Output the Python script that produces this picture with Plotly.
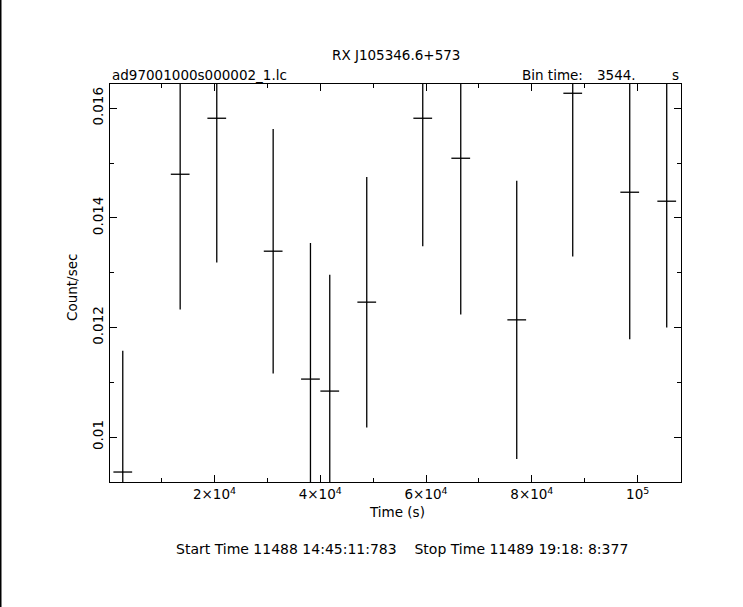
import plotly.graph_objects as go

# ---- data ----
time_s = [2665, 13516, 20435, 31096, 38147, 41796, 48790, 59376, 66560, 77146, 87732, 98507, 105501]
rate = [0.009362, 0.014796, 0.015818, 0.013392, 0.011058, 0.010839, 0.012462,
        0.015818, 0.015088, 0.012139, 0.016274, 0.014468, 0.014304]
rate_err = [0.002212, 0.002469, 0.002634, 0.002230, 0.002485, 0.002121, 0.002286,
            0.002335, 0.002852, 0.002538, 0.002980, 0.002681, 0.002305]
bin_half = 1772  # half of 3544 s bin
x_tickvals = [20000, 40000, 60000, 80000, 100000]
x_ticktext = ["2×10<sup>4</sup>", "4×10<sup>4</sup>", "6×10<sup>4</sup>", "8×10<sup>4</sup>", "10<sup>5</sup>"]
y_tickvals = [0.010, 0.012, 0.014, 0.016]
y_ticktext = ["0.01", "0.012", "0.014", "0.016"]

W, H = 743, 607
L, R, T, B = 110, 681, 84, 482
FONT = "DejaVu Sans"
FS = 13.5


def px(x):
    return (x - L) / (R - L)


def py(y):
    return (B - y) / (B - T)


fig = go.Figure()
fig.add_trace(go.Scatter(
    x=time_s, y=rate, mode="markers",
    marker=dict(size=1, color="black"),
    error_x=dict(type="constant", value=bin_half, color="black", thickness=1.3, width=0),
    error_y=dict(type="data", array=rate_err, color="black", thickness=1.3, width=0),
    showlegend=False, hoverinfo="skip",
))

axis_common = dict(
    showline=True, linecolor="black", linewidth=1.3, mirror="allticks",
    ticks="inside", ticklen=7, tickwidth=1.2, tickcolor="black",
    showgrid=False, zeroline=False,
    tickfont=dict(family=FONT, size=FS, color="black"),
)

fig.update_xaxes(
    range=[250, 108200], tickmode="array", tickvals=x_tickvals, ticktext=x_ticktext,
    minor=dict(tickmode="linear", tick0=0, dtick=10000, ticks="inside", ticklen=4,
               tickwidth=1.2, tickcolor="black", showgrid=False),
    **axis_common,
)
fig.update_yaxes(
    range=[0.00918, 0.016443], tickmode="array", tickvals=y_tickvals, ticktext=y_ticktext,
    tickangle=-90,
    minor=dict(tickmode="linear", tick0=0, dtick=0.001, ticks="inside", ticklen=4,
               tickwidth=1.2, tickcolor="black", showgrid=False),
    **axis_common,
)

ann_font = dict(family=FONT, size=FS, color="black")
annotations = [
    dict(text="RX J105346.6+573", x=px(396), y=py(55), xanchor="center", yanchor="middle"),
    dict(text="ad97001000s000002_1.lc", x=px(110), y=py(75), xanchor="left", yanchor="middle"),
    dict(text="Bin time:", x=px(520), y=py(75), xanchor="left", yanchor="middle"),
    dict(text="3544.", x=px(638), y=py(75), xanchor="right", yanchor="middle"),
    dict(text="s", x=px(681), y=py(75), xanchor="right", yanchor="middle"),
    dict(text="Time (s)", x=px(397), y=py(512), xanchor="center", yanchor="middle"),
    dict(text="Start Time 11488 14:45:11:783    Stop Time 11489 19:18: 8:377",
         x=px(402), y=py(549), xanchor="center", yanchor="middle",
         font=dict(family=FONT, size=14, color="black")),
    dict(text="Count/sec", x=px(72), y=py(288), xanchor="center", yanchor="middle", textangle=-90),
]
for a in annotations:
    a.setdefault("font", ann_font)
    a.update(xref="paper", yref="paper", showarrow=False)

fig.update_layout(
    width=W, height=H,
    margin=dict(l=L, r=W - R, t=T, b=H - B, pad=0),
    paper_bgcolor="white", plot_bgcolor="white",
    annotations=annotations,
    shapes=[dict(type="line", xref="paper", yref="paper",
                 x0=px(0.75), x1=px(0.75), y0=py(0), y1=py(H),
                 line=dict(color="black", width=1.5))],
)

fig.write_html("out.html",
               config={"displayModeBar": False},
               post_script="document.body.style.margin='0';document.body.style.overflow='hidden';")
